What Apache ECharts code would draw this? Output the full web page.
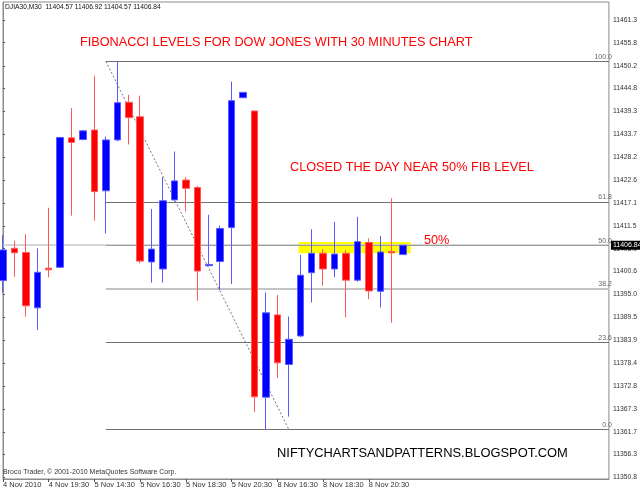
<!DOCTYPE html>
<html>
<head>
<meta charset="utf-8">
<script src="https://cdn.jsdelivr.net/npm/echarts@6/dist/echarts.min.js"></script>
<style>
html,body{margin:0;padding:0;background:#fff;}
#chart{width:640px;height:492px;}
</style>
</head>
<body>
<div id="chart"></div>
<script>
// ---- data ----
const symbolName = 'DJIA30,M30';
const timeLabels = ['4 Nov 2010','4 Nov 19:30','5 Nov 14:30','5 Nov 16:30','5 Nov 18:30','5 Nov 20:30','8 Nov 16:30','8 Nov 18:30','8 Nov 20:30'];
const labelEvery = 4;
const slotCount = 54;
const opens  = [11398.3,11406.1,11405.1,11391.7,11401.3,11401.5,11432.8,11432.4,11434.7,11420.0,11432.3,11441.4,11437.9,11402.8,11401.1,11417.8,11422.6,11420.8,11401.9,11402.9,11411.1,11442.5,11439.3,11370.1,11390.0,11378.0,11384.9,11400.2,11404.9,11401.1,11404.9,11398.4,11407.5,11395.7,11405.3,11404.57];
const closes = [11405.7,11405.0,11392.2,11400.3,11400.9,11432.9,11431.7,11434.5,11419.8,11432.3,11441.3,11437.7,11403.0,11405.9,11417.6,11422.4,11420.6,11400.6,11402.2,11410.9,11441.8,11443.8,11370.2,11390.5,11378.4,11384.1,11399.6,11404.9,11401.1,11404.7,11398.4,11407.7,11395.8,11405.2,11405.0,11406.84];
const highs  = [11409.3,11407.9,11409.5,11406.1,11415.9,11433.0,11440.0,11434.7,11447.8,11433.1,11451.2,11443.2,11443.0,11415.6,11423.3,11429.5,11423.3,11421.2,11414.2,11411.6,11446.4,11443.8,11439.4,11395.4,11394.8,11389.6,11404.5,11410.7,11405.9,11412.5,11405.7,11413.7,11408.5,11409.1,11418.2,11406.92];
const lows   = [11395.4,11399.2,11389.6,11386.3,11399.1,11401.3,11414.0,11432.2,11412.8,11409.7,11432.0,11431.2,11402.5,11397.8,11397.8,11417.4,11415.0,11393.4,11401.8,11396.0,11397.5,11442.5,11366.5,11362.2,11374.7,11365.4,11384.6,11393.0,11397.1,11399.1,11389.4,11398.0,11393.8,11391.8,11388.1,11404.57];
const yTickValues = [11461.3,11455.8,11450.2,11444.8,11439.3,11433.7,11428.2,11422.6,11417.1,11411.5,11406.0,11400.6,11395.0,11389.5,11383.9,11378.4,11372.8,11367.3,11361.7,11356.3,11350.8];
const yMin = 11350.32, yMax = 11465.65;
const fibHigh = 11451.3, fibLow = 11362.3;
const fibLevels = [100.0, 61.8, 50.0, 38.2, 23.6, 0.0];
const fibStartIndex = 9, fibEndIndex = 25;
const zoneStart = 25.85, zoneEnd = 35.67, zoneHigh = 11407.6, zoneLow = 11404.9;

// ---- build ----
const categories = Array.from({length: slotCount}, (_, i) => 'slot' + i);
const showTick = (i) => i % labelEvery === 0 && (i / labelEvery) < timeLabels.length;
const candleData = opens.map((o, i) => [o, closes[i], lows[i], highs[i]]);
const last = opens.length - 1;
const fmt2 = v => v.toFixed(2);
const headerText = symbolName + '  ' + [opens[last], highs[last], lows[last], closes[last]].map(fmt2).join(' ');

const fibStyle = {
  '100': {color: '#707070', width: 1},
  '61.8': {color: '#707070', width: 1},
  '50': {color: '#222222', width: 1},
  '38.2': {color: '#c4c4c4', width: 2},
  '23.6': {color: '#707070', width: 1},
  '0': {color: '#707070', width: 1}
};
const fibLines = fibLevels.map(lv => {
  const price = fibLow + (fibHigh - fibLow) * lv / 100;
  const st = fibStyle[String(lv)];
  return [
    {coord: [fibStartIndex, price], lineStyle: {color: st.color, width: st.width, type: 'solid'},
     label: {show: true, position: 'insideEndTop', formatter: lv.toFixed(1), color: '#666', fontSize: 7, fontFamily: 'Liberation Sans', distance: [-3, 1]}},
    {coord: [slotCount - 1, price]}
  ];
});

const chart = echarts.init(document.getElementById('chart'), null, {renderer: 'canvas'});
const font = 'Liberation Sans';
chart.setOption({
  animation: false,
  backgroundColor: '#ffffff',
  grid: {left: 2, right: 27, top: 2, bottom: 13, show: true, borderColor: '#8a8a8a', borderWidth: 1, backgroundColor: 'transparent'},
  xAxis: [{
    type: 'category', data: categories, boundaryGap: false,
    axisLine: {lineStyle: {color: '#8a8a8a', width: 1}},
    axisTick: {show: true, length: 3, interval: showTick, lineStyle: {color: '#555'}},
    axisLabel: {interval: showTick, align: 'left', margin: 2, fontSize: 7.5, fontFamily: font, color: '#333',
      formatter: (v, i) => timeLabels[i / labelEvery] || ''},
    splitLine: {show: false}
  }, {
    type: 'value', min: 0, max: slotCount - 1, show: false
  }],
  yAxis: {
    type: 'value', position: 'right', min: yMin, max: yMax, scale: true,
    axisLine: {show: true, lineStyle: {color: '#8a8a8a', width: 1}},
    axisTick: {show: true, length: 2, customValues: yTickValues, lineStyle: {color: '#555'}},
    axisLabel: {customValues: yTickValues, margin: 4, fontSize: 6.8, fontFamily: font, color: '#333', formatter: v => v.toFixed(1)},
    splitLine: {show: false}
  },
  series: [{
    type: 'custom', xAxisIndex: 1, yAxisIndex: 0, z: 1, silent: true,
    data: [[zoneStart, zoneEnd, zoneHigh, zoneLow]],
    encode: {x: [0, 1], y: [2, 3]},
    renderItem: (params, api) => {
      const p1 = api.coord([api.value(0), api.value(2)]);
      const p2 = api.coord([api.value(1), api.value(3)]);
      return {type: 'rect', shape: {x: p1[0], y: p1[1], width: p2[0] - p1[0], height: p2[1] - p1[1]}, style: {fill: '#ffff00'}};
    }
  }, {
    type: 'candlestick', xAxisIndex: 0, yAxisIndex: 0, z: 3, clip: true,
    barWidth: 7,
    data: candleData,
    itemStyle: {color: '#0000ff', color0: '#ff0000', borderColor: '#5a5aff', borderColor0: '#ff5a5a', borderWidth: 1},
    markLine: {
      silent: true, symbol: ['none', 'none'], z: 2,
      data: [
        ...fibLines,
        [{coord: [fibStartIndex, fibHigh], lineStyle: {color: '#777', width: 1, type: [2, 2]}, label: {show: false}},
         {coord: [fibEndIndex, fibLow]}],
        {yAxis: closes[last], lineStyle: {color: '#c8c8c8', width: 1.5, type: 'solid'},
         label: {show: true, position: 'end', distance: 2, formatter: fmt2(closes[last]), backgroundColor: '#000', color: '#fff',
                 fontSize: 7, fontFamily: font, padding: [1, 2, 1, 2]}}
      ]
    }
  }],
  graphic: [
    {type: 'text', x: 5, y: 7.5, z: 10, style: {text: headerText, fill: '#111', font: '6.7px "Liberation Sans"', verticalAlign: 'middle'}},
    {type: 'text', x: 80, y: 42, z: 10, style: {text: 'FIBONACCI LEVELS FOR DOW JONES WITH 30 MINUTES CHART', fill: '#ff0000', font: '12.7px "Liberation Sans"', verticalAlign: 'middle'}},
    {type: 'text', x: 290, y: 167, z: 10, style: {text: 'CLOSED THE DAY NEAR 50% FIB LEVEL', fill: '#ff0000', font: '12.7px "Liberation Sans"', verticalAlign: 'middle'}},
    {type: 'text', x: 424, y: 240, z: 10, style: {text: '50%', fill: '#ff0000', font: '12.7px "Liberation Sans"', verticalAlign: 'middle'}},
    {type: 'text', x: 277, y: 453, z: 10, style: {text: 'NIFTYCHARTSANDPATTERNS.BLOGSPOT.COM', fill: '#000', font: '12.9px "Liberation Sans"', verticalAlign: 'middle'}},
    {type: 'text', x: 3, y: 472, z: 10, style: {text: 'Broco Trader, \u00a9 2001-2010 MetaQuotes Software Corp.', fill: '#333', font: '7px "Liberation Sans"', verticalAlign: 'middle'}}
  ]
});
</script>
</body>
</html>
